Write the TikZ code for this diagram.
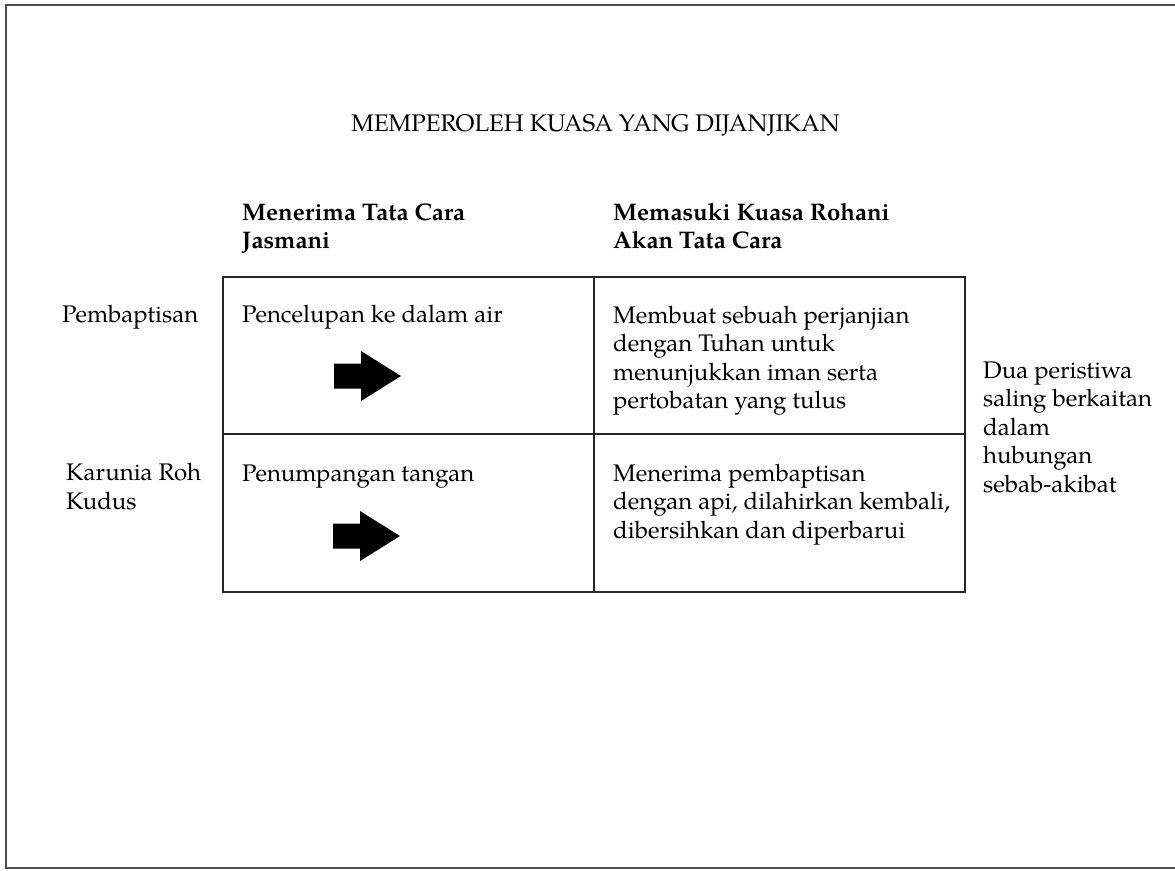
\documentclass[tikz,border=0pt]{standalone}
\usepackage{fontspec}
\setmainfont{texgyrepagella}[Extension=.otf, UprightFont=*-regular, BoldFont=*-bold]
\begin{document}
\begin{tikzpicture}[x=1pt, y=-1pt,
  % multi-line blocks are placed by the baseline of their last line
  txt/.style={anchor=base west, inner sep=0pt, align=left,
    font=\fontsize{24}{28.5}\selectfont},
  head/.style={txt, font=\fontsize{24}{28}\selectfont\bfseries},
  frame/.style={draw=black!70, line width=1.3pt},
  grid/.style={draw=black!85, line width=1.3pt},
  rarrow/.pic={\fill[black] (-33,-12.5) -- (-6,-12.5) -- (-6,-25) -- (34,0)
      -- (-6,25) -- (-6,12.5) -- (-33,12.5) -- cycle;}]
\useasboundingbox (0,0) rectangle (1175,870);

% page frame (open on the right)
\draw[frame] (1176,5) -- (6,5) -- (6,868) -- (1176,868);

% title
\node[txt, anchor=base] (title) at (595.5,131) {MEMPEROLEH KUASA YANG DIJANJIKAN};

% column headings
\node[head] (h1) at (242,248) {Menerima Tata Cara\\Jasmani};
\node[head] (h2) at (613,248) {Memasuki Kuasa Rohani\\Akan Tata Cara};

% table
\coordinate (tl) at (223,277);
\coordinate (br) at (965,592);
\draw[grid] (tl) rectangle (br);
\draw[grid] (594,277) -- (594,592);
\draw[grid] (223,434) -- (965,434);

% row labels
\node[txt] (r1) at (62,322) {Pembaptisan};
\node[txt] (r2) at (66,509) {Karunia Roh\\Kudus};

% cells
\node[txt] (c11) at (242,322) {Pencelupan ke dalam air};
\node[txt] (c21) at (242,481) {Penumpangan tangan};
\node[txt] (c12) at (613,408.5) {Membuat sebuah perjanjian\\dengan Tuhan untuk\\menunjukkan iman serta\\pertobatan yang tulus};
\node[txt] (c22) at (613,538) {Menerima pembaptisan\\dengan api, dilahirkan kembali,\\dibersihkan dan diperbarui};

% block arrows
\pic (a1) at (367,376) {rarrow};
\pic (a2) at (366,536) {rarrow};

% side note
\node[txt] (note) at (983,492) {Dua peristiwa\\saling berkaitan\\dalam\\hubungan\\sebab-akibat};
\end{tikzpicture}
\end{document}
